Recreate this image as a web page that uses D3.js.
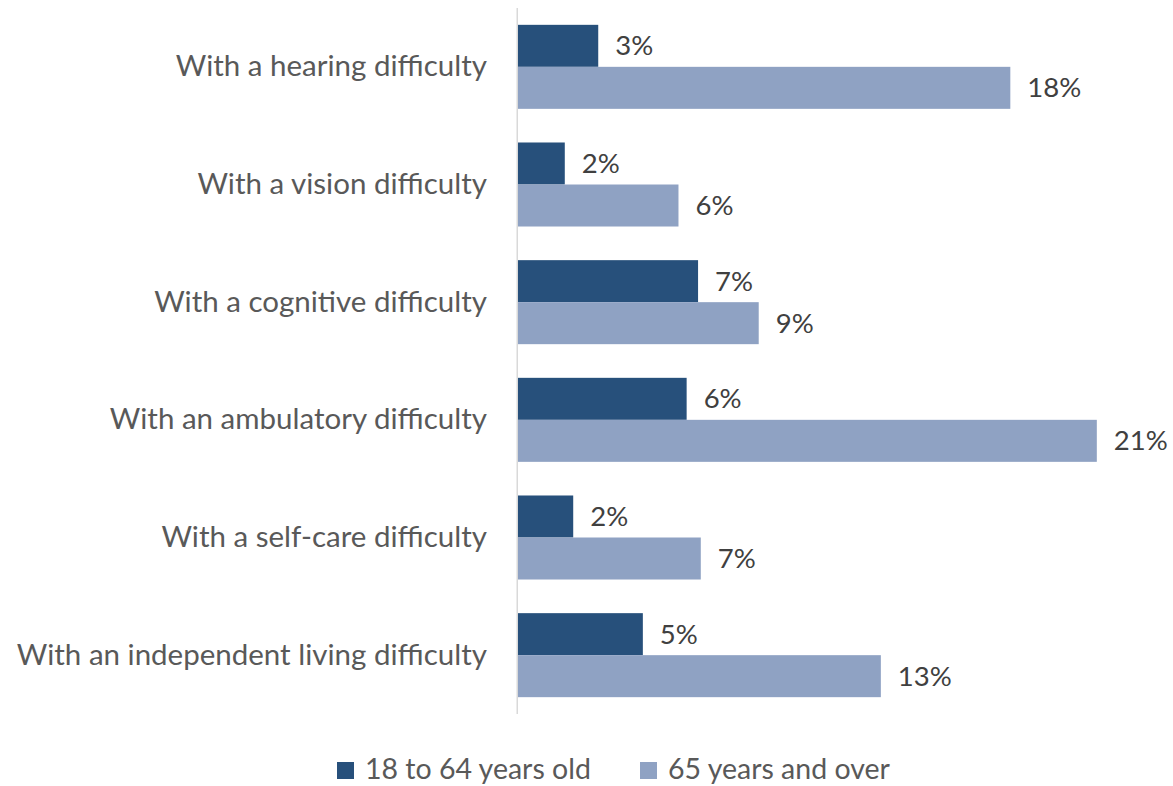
<!DOCTYPE html>
<html>
<head>
  <meta charset="UTF-8">
  <title>Disability by age</title>
  <style>
    body { margin: 0; background: #fff; }
    svg text { font-family: Lato, "Open Sans", sans-serif; }
  </style>
</head>
<body>
  <svg id="chart" width="1173" height="786"></svg>

  <script src="https://d3js.org/d3.v7.min.js"></script>
  <script>
    // data (bar lengths, labels are rounded)
    var categories = [
      "With a hearing difficulty",
      "With a vision difficulty",
      "With a cognitive difficulty",
      "With an ambulatory difficulty",
      "With a self-care difficulty",
      "With an independent living difficulty"
    ];
    var seriesNames = ["18 to 64 years old", "65 years and over"];
    var age18to64 = [0.0295, 0.0172, 0.0662, 0.0620, 0.0203, 0.0459];
    var age65plus = [0.181, 0.059, 0.0885, 0.2128, 0.0672, 0.1334];
    var colors = ["#27507b", "#8fa2c3"];

    var svg = d3.select("#chart");

    var x = d3.scaleLinear()
      .domain([0, 0.25])
      .range([518, 1198]);

    var y = d3.scaleBand()
      .domain(categories)
      .range([8, 714])
      .paddingInner(0.286)
      .paddingOuter(0.143);

    var ySub = d3.scaleBand()
      .domain(seriesNames)
      .range([0, y.bandwidth()]);

    var rows = categories.map(function(c, i) {
      return { cat: c, values: [age18to64[i], age65plus[i]] };
    });

    var fmt = d3.format(".0%");

    var groups = svg.selectAll(".grp")
      .data(rows)
      .enter().append("g")
        .attr("class", "grp")
        .attr("transform", function(d) { return "translate(0," + y(d.cat) + ")"; });

    groups.selectAll("rect")
      .data(function(d) { return d.values.map(function(v, j) { return { key: seriesNames[j], v: v, j: j }; }); })
      .enter().append("rect")
        .attr("x", x(0))
        .attr("y", function(d) { return ySub(d.key); })
        .attr("width", function(d) { return x(d.v) - x(0); })
        .attr("height", ySub.bandwidth())
        .attr("fill", function(d) { return colors[d.j]; });

    groups.selectAll(".val")
      .data(function(d) { return d.values.map(function(v, j) { return { key: seriesNames[j], v: v }; }); })
      .enter().append("text")
        .attr("class", "val")
        .attr("x", function(d) { return x(d.v) + 17; })
        .attr("y", function(d) { return ySub(d.key) + ySub.bandwidth() / 2; })
        .attr("dy", "0.35em")
        .attr("fill", "#404040")
        .style("font-size", "27.5px")
        .text(function(d) { return fmt(d.v); });

    // category labels, no ticks
    var yAxis = svg.append("g")
      .attr("transform", "translate(" + (x(0) - 1) + ",0)")
      .call(d3.axisLeft(y).tickSize(0).tickPadding(30));
    yAxis.select(".domain").remove();
    yAxis.selectAll("text")
      .attr("fill", "#595959")
      .style("font-size", "29.5px")
      .style("font-family", "Lato, 'Open Sans', sans-serif");

    svg.append("line")
      .attr("x1", x(0) - 0.75).attr("x2", x(0) - 0.75)
      .attr("y1", 8).attr("y2", 714)
      .attr("stroke", "#d9d9d9")
      .attr("stroke-width", 1.5);

    // legend
    var legendX = [337, 640];
    var legend = svg.selectAll(".legend")
      .data(seriesNames)
      .enter().append("g")
        .attr("class", "legend")
        .attr("transform", function(d, i) { return "translate(" + legendX[i] + ",762)"; });

    legend.append("rect")
      .attr("width", 17)
      .attr("height", 17)
      .attr("fill", function(d, i) { return colors[i]; });

    legend.append("text")
      .attr("x", 28)
      .attr("y", 16.5)
      .attr("fill", "#595959")
      .style("font-size", "28.5px")
      .text(function(d) { return d; });
  </script>
</body>
</html>
